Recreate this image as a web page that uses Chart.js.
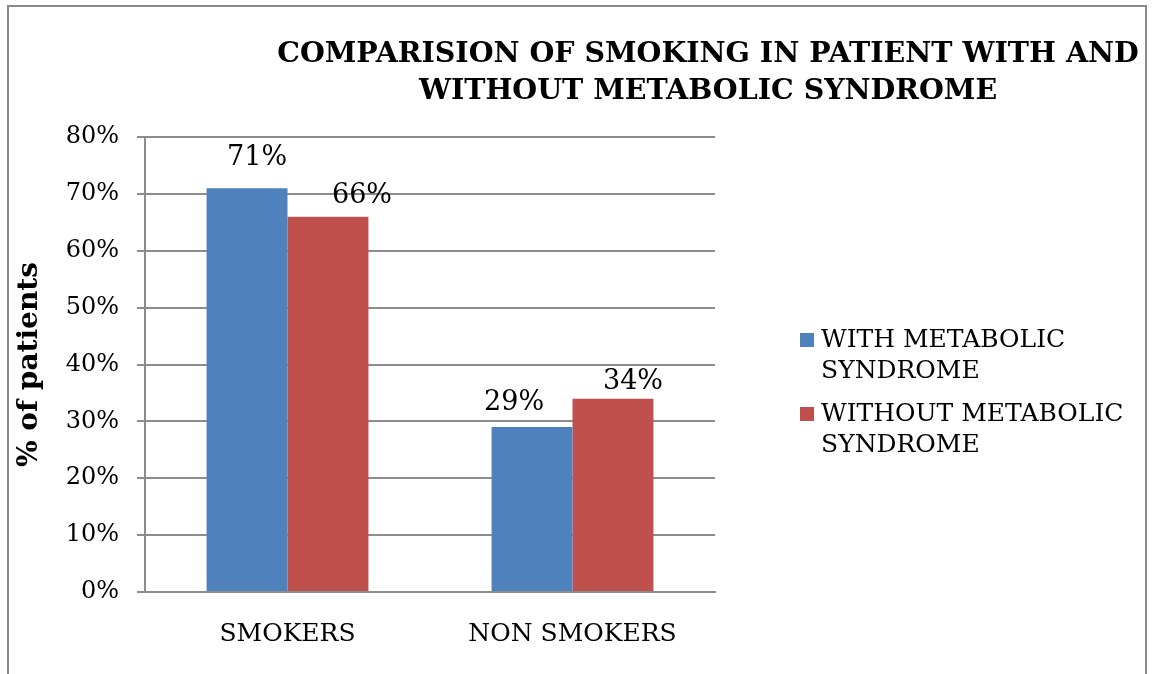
<!DOCTYPE html>
<html>
<head>
<meta charset="utf-8">
<script src="https://cdn.jsdelivr.net/npm/chart.js@4/dist/chart.umd.min.js"></script>
<style>
  html, body { margin: 0; padding: 0; background: #fff; }
  #wrap { width: 1152px; height: 674px; }
</style>
</head>
<body>
<div id="wrap"><canvas id="smokingChart" width="1152" height="674"></canvas></div>
<script>
/* ── Data ── */
var categories = ['SMOKERS', 'NON SMOKERS'];
var withMetS = [71, 29];
var withoutMetS = [66, 34];
var seriesNames = [['WITH METABOLIC', 'SYNDROME'], ['WITHOUT METABOLIC', 'SYNDROME']];
var titleLines = ['COMPARISION OF SMOKING IN PATIENT WITH AND', 'WITHOUT METABOLIC SYNDROME'];
var yTicks = [0, 10, 20, 30, 40, 50, 60, 70, 80];

var SERIF = '"DejaVu Serif", "Liberation Serif", serif';
var GRID = '#8c8c8c';

// hand-placed value labels: shift from bar centre / bar top, per dataset
var labelShift = [
  [{ dx: 10, dy: -30 }, { dx: -18, dy: -24 }],
  [{ dx: 34, dy: -21 }, { dx: 20, dy: -17 }]
];

/* ── Frame, title, legend and value labels ── */
var decor = {
  id: 'decor',
  beforeDraw: function(chart) {
    var ctx = chart.ctx;
    ctx.save();
    ctx.fillStyle = '#fff';
    ctx.fillRect(0, 0, chart.width, chart.height);
    ctx.strokeStyle = '#8a8a8a';
    ctx.lineWidth = 2;
    ctx.strokeRect(8, 6, 1138, 700);
    ctx.restore();
  },
  afterDraw: function(chart) {
    var ctx = chart.ctx;
    ctx.save();

    // title
    ctx.fillStyle = '#000';
    ctx.textAlign = 'center';
    ctx.textBaseline = 'middle';
    ctx.font = 'bold 28.5px ' + SERIF;
    titleLines.forEach(function(line, i) {
      ctx.fillText(line, 708, 55 + i * 37);
    });

    // legend
    ctx.textAlign = 'left';
    ctx.font = '25px ' + SERIF;
    var y = 340;
    chart.data.datasets.forEach(function(ds, i) {
      ctx.fillStyle = ds.backgroundColor;
      ctx.fillRect(800, y - 7, 14, 14);
      ctx.fillStyle = '#000';
      seriesNames[i].forEach(function(line, j) {
        ctx.fillText(line, 821, y + j * 31);
      });
      y += 74;
    });

    // value labels above bars
    ctx.textAlign = 'center';
    ctx.font = '27px ' + SERIF;
    chart.data.datasets.forEach(function(ds, di) {
      var meta = chart.getDatasetMeta(di);
      meta.data.forEach(function(bar, i) {
        var s = labelShift[di][i];
        ctx.fillText(ds.data[i] + '%', bar.x + s.dx, bar.y + s.dy);
      });
    });
    ctx.restore();
  }
};

new Chart(document.getElementById('smokingChart'), {
  type: 'bar',
  data: {
    labels: categories,
    datasets: [
      { label: seriesNames[0].join(' '), data: withMetS, backgroundColor: '#4f81bd' },
      { label: seriesNames[1].join(' '), data: withoutMetS, backgroundColor: '#c0504d' }
    ]
  },
  plugins: [decor],
  options: {
    responsive: false,
    animation: false,
    layout: { padding: { top: 137, right: 437, bottom: 0, left: 0 } },
    datasets: { bar: { categoryPercentage: 0.568, barPercentage: 1 } },
    plugins: {
      legend: { display: false },
      title: { display: false },
      tooltip: { enabled: false }
    },
    scales: {
      x: {
        grid: { display: false, drawTicks: false },
        border: { display: true, color: GRID, width: 2 },
        ticks: { color: '#000', padding: 27, font: { family: SERIF, size: 25 } },
        afterFit: function(s) { s.height = 82; }
      },
      y: {
        min: 0,
        max: 80,
        afterBuildTicks: function(s) { s.ticks = yTicks.map(function(v) { return { value: v }; }); },
        grid: { color: GRID, lineWidth: 2, tickLength: 8 },
        border: { display: true, color: GRID, width: 2 },
        ticks: {
          color: '#000',
          padding: 18,
          font: { family: SERIF, size: 24 },
          callback: function(v) { return v + '%'; }
        },
        title: {
          display: true,
          text: '% of patients',
          color: '#000',
          padding: { top: 13, bottom: 0 },
          font: { family: SERIF, size: 28, weight: 'bold' }
        },
        afterFit: function(s) { s.width = 145; }
      }
    }
  }
});
</script>
</body>
</html>
